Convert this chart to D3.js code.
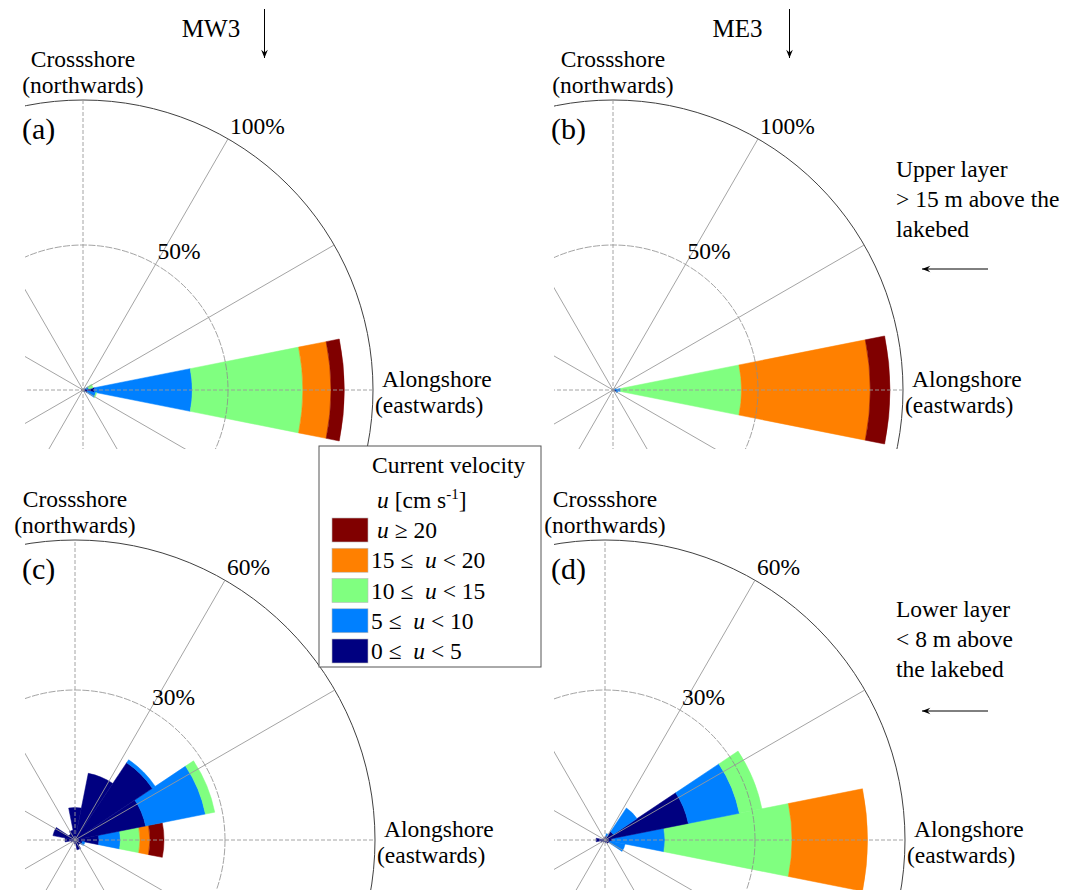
<!DOCTYPE html>
<html>
<head>
<meta charset="utf-8">
<script src="https://cdn.jsdelivr.net/npm/d3@7"></script>
<style>
  body { margin: 0; background: #fff; }
  svg text { font-family: "Liberation Serif", "Times New Roman", serif; fill: #000; white-space: pre; }
</style>
</head>
<body>
<svg id="chart" width="1092" height="890" font-family="Liberation Serif"></svg>
<script>
// Direction bins (centre angle, degrees counter-clockwise from east)
const directions = ["E","ENE","NE","NNE","N","NNW","NW","WNW","W","WSW","SW","SSW","S","SSE","SE","ESE"];
const directionAngles = [0, 22.5, 45, 67.5, 90, 112.5, 135, 157.5, 180, 202.5, 225, 247.5, 270, 292.5, 315, 337.5];

// Speed classes, slowest first
const speedClasses = ["0 ≤  u < 5", "5 ≤  u < 10", "10 ≤  u < 15", "15 ≤  u < 20", "u ≥ 20"];
const classColors = ["#000080", "#0080ff", "#80ff80", "#ff8000", "#800000"];

// Frequency (% of records) per direction, one row per speed class
// MW3, upper layer
const mw3Upper = [
  [4.0, 1.0, 0.4, 0.3, 0.3, 0.3, 0.4, 0.5, 0.6, 0.4, 0.3, 0.3, 0.3, 0.4, 0.6, 1.5],
  [33.7, 1.0, 0.2, 0, 0, 0, 0, 0, 0, 0, 0, 0, 0, 0, 0.3, 3.0],
  [38.1, 1.5, 0, 0, 0, 0, 0, 0, 0, 0, 0, 0, 0, 0, 0, 0.3],
  [9.7, 0, 0, 0, 0, 0, 0, 0, 0, 0, 0, 0, 0, 0, 0, 0],
  [4.6, 0, 0, 0, 0, 0, 0, 0, 0, 0, 0, 0, 0, 0, 0, 0]
];
// ME3, upper layer
const me3Upper = [
  [0.6, 0.3, 0.2, 0.2, 0.2, 0.2, 0.2, 0.3, 0.4, 0.3, 0.2, 0.2, 0.2, 0.3, 0.4, 1.2],
  [2.0, 0.8, 0, 0, 0, 0, 0, 0, 0, 0, 0, 0, 0, 0, 0, 0.5],
  [41.7, 0, 0, 0, 0, 0, 0, 0, 0, 0, 0, 0, 0, 0, 0, 0],
  [44.4, 0, 0, 0, 0, 0, 0, 0, 0, 0, 0, 0, 0, 0, 0, 0],
  [6.8, 0, 0, 0, 0, 0, 0, 0, 0, 0, 0, 0, 0, 0, 0, 0]
];
// MW3, lower layer
const mw3Lower = [
  [4.8, 14.4, 18.6, 13.6, 6.5, 2.0, 1.5, 4.5, 2.0, 0.8, 0.4, 0.4, 0.8, 2.0, 1.2, 1.5],
  [4.3, 12.2, 0.7, 0, 0, 0, 0, 0, 0, 0, 0, 0, 0, 0, 0, 0.5],
  [3.9, 1.9, 0, 0, 0, 0, 0, 0, 0, 0, 0, 0, 0, 0, 0, 0],
  [2.0, 0, 0, 0, 0, 0, 0, 0, 0, 0, 0, 0, 0, 0, 0, 0],
  [2.8, 0, 0, 0, 0, 0, 0, 0, 0, 0, 0, 0, 0, 0, 0, 0]
];
// ME3, lower layer
const me3Lower = [
  [1.5, 17.0, 2.0, 0.8, 0.5, 0.3, 0.3, 0.4, 1.8, 0.8, 0.4, 0.3, 0.4, 0.6, 0.8, 1.0],
  [10.5, 10.4, 5.7, 0.5, 0, 0, 0, 0, 0, 0, 0, 0, 0, 0, 0, 3.1],
  [25.4, 4.6, 0, 0, 0, 0, 0, 0, 0, 0, 0, 0, 0, 0, 0, 0],
  [15.1, 0, 0, 0, 0, 0, 0, 0, 0, 0, 0, 0, 0, 0, 0, 0],
  [0, 0, 0, 0, 0, 0, 0, 0, 0, 0, 0, 0, 0, 0, 0, 0]
];

// Radial grid rings (%) for each row of panels
const upperRings = [50, 100];
const lowerRings = [30, 60];

const panels = [
  { id: "a", letter: "(a)", data: mw3Upper, rings: upperRings, cx: 83,  cy: 390, R: 290, clip: [25, 0, 520, 449] },
  { id: "b", letter: "(b)", data: me3Upper, rings: upperRings, cx: 613, cy: 390, R: 290, clip: [554, 0, 538, 449] },
  { id: "c", letter: "(c)", data: mw3Lower, rings: lowerRings, cx: 75,  cy: 840, R: 300, clip: [25, 455, 520, 435] },
  { id: "d", letter: "(d)", data: me3Lower, rings: lowerRings, cx: 605, cy: 840, R: 300, clip: [554, 455, 538, 435] }
];

const svg = d3.select("#chart");
const defs = svg.append("defs");
const FS = 23.5;
const rad = d => d * Math.PI / 180;
const halfBin = 11.25;

panels.forEach(p => {
  const maxPct = p.rings[p.rings.length - 1];
  const r = d3.scaleLinear().domain([0, maxPct]).range([0, p.R]);

  defs.append("clipPath").attr("id", "clip-" + p.id)
    .append("rect").attr("x", p.clip[0]).attr("y", p.clip[1]).attr("width", p.clip[2]).attr("height", p.clip[3]);

  const g = svg.append("g").attr("clip-path", "url(#clip-" + p.id + ")");
  const c = g.append("g").attr("transform", `translate(${p.cx},${p.cy})`);

  // stacked sectors, one per direction and speed class
  const arc = d3.arc();
  const sectors = [];
  directionAngles.forEach((ang, i) => {
    let cum = 0;
    p.data.forEach((row, k) => {
      const v = row[i];
      if (v > 0) {
        sectors.push({
          innerRadius: r(cum), outerRadius: r(cum + v),
          startAngle: rad(90 - (ang + halfBin)), endAngle: rad(90 - (ang - halfBin)),
          color: classColors[k]
        });
      }
      cum += v;
    });
  });
  c.selectAll("path.sector").data(sectors).join("path")
    .attr("class", "sector")
    .attr("d", d => arc(d))
    .attr("fill", d => d.color)
    .attr("stroke", d => d.color)
    .attr("stroke-width", 0.5);

  // rings
  p.rings.forEach((v, j) => {
    const outer = j === p.rings.length - 1;
    c.append("circle").attr("r", r(v)).attr("fill", "none")
      .attr("stroke", outer ? "#404040" : "#8c8c8c")
      .attr("stroke-width", outer ? 1 : 0.8)
      .attr("stroke-dasharray", outer ? null : "7,1.5");
  });

  // spokes every 30 degrees
  d3.range(0, 180, 30).forEach(a => {
    const dx = Math.cos(rad(a)) * p.R, dy = -Math.sin(rad(a)) * p.R;
    c.append("line").attr("x1", -dx).attr("y1", -dy).attr("x2", dx).attr("y2", dy)
      .attr("stroke", "#9a9a9a").attr("stroke-width", 0.9)
      .attr("stroke-dasharray", (a % 90 === 0) ? "4,2" : null);
  });

  // ring labels along the 60 degree spoke
  p.rings.forEach(v => {
    svg.append("text")
      .attr("x", p.cx + r(v) * Math.cos(rad(60)) + 2)
      .attr("y", p.cy - r(v) * Math.sin(rad(60)) - 5)
      .attr("font-size", FS).text(v + "%");
  });

  // axis labels
  svg.append("text").attr("x", p.cx).attr("y", p.cy - p.R - 33)
    .attr("text-anchor", "middle").attr("font-size", FS).text("Crossshore");
  svg.append("text").attr("x", p.cx).attr("y", p.cy - p.R - 7)
    .attr("text-anchor", "middle").attr("font-size", FS).text("(northwards)");
  svg.append("text").attr("x", p.cx + p.R + 9).attr("y", p.cy - 3)
    .attr("font-size", FS).text("Alongshore");
  svg.append("text").attr("x", p.cx + p.R + 2).attr("y", p.cy + 23)
    .attr("font-size", FS).text("(eastwards)");

  // panel letter
  svg.append("text").attr("x", p.clip[0] - 3).attr("y", p.cy - p.R + 39)
    .attr("font-size", 30).text(p.letter);
});

// station titles with downward arrows
const stations = [
  { name: "MW3", x: 211, arrowX: 264.5 },
  { name: "ME3", x: 737.5, arrowX: 789.5 }
];
function arrow(x1, y1, x2, y2) {
  const a = Math.atan2(y2 - y1, x2 - x1), L = 9, w = 0.38;
  svg.append("line").attr("x1", x1).attr("y1", y1).attr("x2", x2).attr("y2", y2)
    .attr("stroke", "#000").attr("stroke-width", 1);
  const p1 = [x2 - L * Math.cos(a - w), y2 - L * Math.sin(a - w)];
  const p2 = [x2 - L * Math.cos(a + w), y2 - L * Math.sin(a + w)];
  const pm = [x2 - 0.6 * L * Math.cos(a), y2 - 0.6 * L * Math.sin(a)];
  svg.append("path").attr("d", `M${p1}L${x2},${y2}L${p2}L${pm}Z`).attr("fill", "#000");
}
stations.forEach(s => {
  svg.append("text").attr("x", s.x).attr("y", 37).attr("text-anchor", "middle")
    .attr("font-size", 25).text(s.name);
  arrow(s.arrowX, 9, s.arrowX, 58);
});

// layer notes with leftward arrows
const layerNotes = [
  { lines: ["Upper layer", "> 15 m above the", "lakebed"], y: 177, arrowY: 269 },
  { lines: ["Lower layer", "< 8 m above", "the lakebed"], y: 617, arrowY: 711 }
];
layerNotes.forEach(n => {
  n.lines.forEach((t, i) => {
    svg.append("text").attr("x", 896).attr("y", n.y + i * 30).attr("font-size", FS).text(t);
  });
  arrow(988, n.arrowY, 922, n.arrowY);
});

// legend
const lg = svg.append("g");
lg.append("rect").attr("x", 319).attr("y", 446).attr("width", 222).attr("height", 221)
  .attr("fill", "#fff").attr("stroke", "#555").attr("stroke-width", 1);
lg.append("text").attr("x", 372).attr("y", 473).attr("font-size", FS).text("Current velocity");
const unit = lg.append("text").attr("x", 377).attr("y", 508).attr("font-size", FS);
unit.append("tspan").attr("font-style", "italic").text("u");
unit.append("tspan").text(" [cm s");
unit.append("tspan").attr("dy", -9).attr("font-size", 15).text("-1");
unit.append("tspan").attr("dy", 9).text("]");

const legendOrder = d3.range(speedClasses.length).reverse();
legendOrder.forEach((k, row) => {
  const y = 518 + row * 30.25;
  lg.append("rect").attr("x", 332).attr("y", y).attr("width", 36).attr("height", 24)
    .attr("fill", classColors[k]).attr("stroke", "#bbb").attr("stroke-width", 0.6);
  const t = lg.append("text").attr("x", k === 4 ? 377 : 371).attr("y", y + 20).attr("font-size", FS);
  const parts = speedClasses[k].split("u");
  parts.forEach((s, j) => {
    if (j > 0) t.append("tspan").attr("font-style", "italic").text("u");
    if (s) t.append("tspan").text(s);
  });
});
</script>
</body>
</html>
